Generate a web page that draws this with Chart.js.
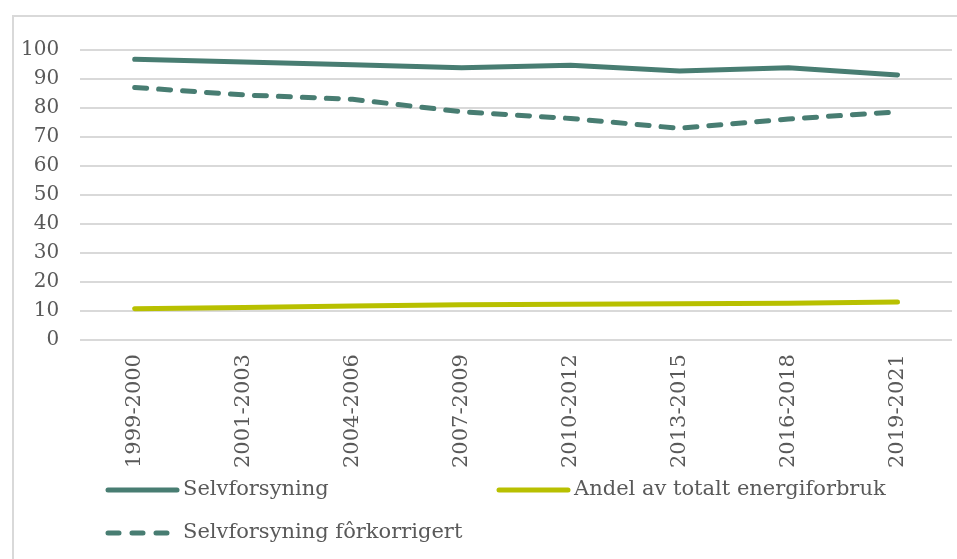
<!DOCTYPE html>
<html>
<head>
<meta charset="utf-8">
<script src="https://cdn.jsdelivr.net/npm/chart.js@4.4.1/dist/chart.umd.min.js"></script>
<style>
  html, body { margin: 0; padding: 0; background: #fff; overflow: hidden; }
  #wrap { position: relative; width: 957px; height: 559px; }
  #frame { position: absolute; left: 12px; top: 15px; width: 960px; height: 600px; border: 2px solid #d9d9d9; box-sizing: border-box; }
  #chart { position: absolute; left: 0; top: 0; }
</style>
</head>
<body>
<div id="wrap">
  <div id="frame"></div>
  <canvas id="chart" width="957" height="559"></canvas>
</div>
<script>
// data
var periods = ['1999-2000', '2001-2003', '2004-2006', '2007-2009', '2010-2012', '2013-2015', '2016-2018', '2019-2021'];
var selvforsyning = [96.8, 95.9, 94.9, 93.9, 94.7, 92.8, 93.9, 91.4];
var selvforsyningForkorrigert = [87.1, 84.5, 83.0, 78.7, 76.4, 73.0, 76.2, 78.7];
var andelTotalt = [10.8, 11.2, 11.7, 12.2, 12.3, 12.5, 12.7, 13.1];
var yTicks = [0, 10, 20, 30, 40, 50, 60, 70, 80, 90, 100];

var teal = '#487d72';
var lime = '#b8c000';
var textGrey = '#595959';
var fontFam = '"DejaVu Serif", serif';

// legend drawn by hand so it can sit in two columns like the original
var legendSpots = [
  { ds: 0, x: 106, y: 490 },
  { ds: 2, x: 497, y: 490 },
  { ds: 1, x: 106, y: 533 }
];

var manualLegend = {
  id: 'manualLegend',
  afterDraw: function (chart) {
    var ctx = chart.ctx;
    ctx.save();
    legendSpots.forEach(function (spot) {
      var ds = chart.data.datasets[spot.ds];
      var len = ds.borderDash ? 64 : 71;
      ctx.beginPath();
      ctx.lineWidth = 5;
      ctx.lineCap = 'round';
      ctx.strokeStyle = ds.borderColor;
      ctx.setLineDash(ds.borderDash ? [11, 13] : []);
      ctx.moveTo(spot.x + 2, spot.y);
      ctx.lineTo(spot.x + len, spot.y);
      ctx.stroke();
      ctx.setLineDash([]);
      ctx.fillStyle = textGrey;
      ctx.font = '21px ' + fontFam;
      ctx.textBaseline = 'middle';
      ctx.textAlign = 'left';
      ctx.fillText(ds.label, spot.x + 77, spot.y);
    });
    ctx.restore();
  }
};

var ctx = document.getElementById('chart').getContext('2d');
var chart = new Chart(ctx, {
  type: 'line',
  data: {
    labels: periods,
    datasets: [
      {
        label: 'Selvforsyning',
        data: selvforsyning,
        borderColor: teal,
        backgroundColor: teal,
        borderWidth: 5,
        borderCapStyle: 'round',
        borderJoinStyle: 'round',
        pointRadius: 0,
        tension: 0
      },
      {
        label: 'Selvforsyning fôrkorrigert',
        data: selvforsyningForkorrigert,
        borderColor: teal,
        backgroundColor: teal,
        borderWidth: 5,
        borderDash: [12, 12],
        borderCapStyle: 'round',
        borderJoinStyle: 'round',
        pointRadius: 0,
        tension: 0
      },
      {
        label: 'Andel av totalt energiforbruk',
        data: andelTotalt,
        borderColor: lime,
        backgroundColor: lime,
        borderWidth: 5,
        borderCapStyle: 'round',
        borderJoinStyle: 'round',
        pointRadius: 0,
        tension: 0
      }
    ]
  },
  options: {
    responsive: false,
    animation: false,
    layout: { padding: { left: 0, right: 5, top: 50, bottom: 85 } },
    plugins: {
      legend: { display: false },
      tooltip: { enabled: false }
    },
    scales: {
      x: {
        offset: true,
        grid: { display: false },
        border: { display: false },
        ticks: {
          color: textGrey,
          font: { family: fontFam, size: 21 },
          minRotation: 90,
          maxRotation: 90,
          padding: 6
        }
      },
      y: {
        min: 0,
        max: 100,
        afterBuildTicks: function (axis) {
          axis.ticks = yTicks.map(function (v) { return { value: v }; });
        },
        grid: { color: '#d9d9d9', lineWidth: 2, drawTicks: false },
        border: { display: false },
        ticks: {
          color: textGrey,
          font: { family: fontFam, size: 20 },
          padding: 21
        }
      }
    }
  },
  plugins: [manualLegend]
});
</script>
</body>
</html>
